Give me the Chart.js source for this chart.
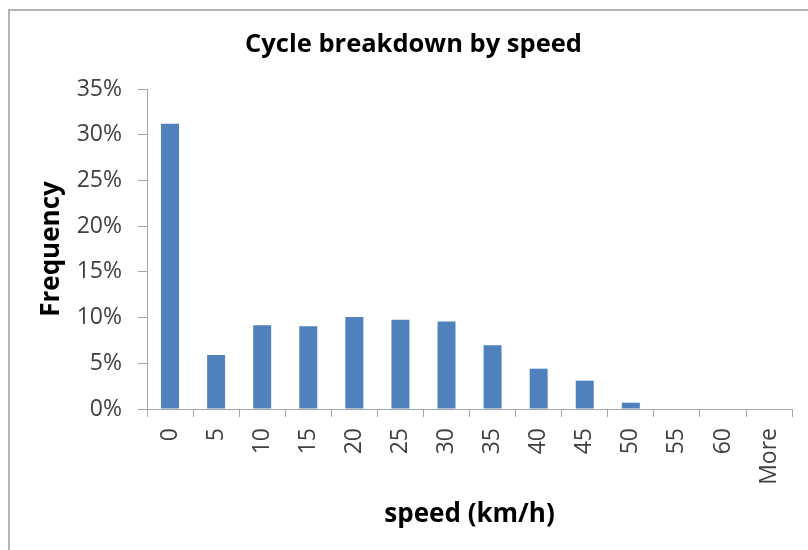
<!DOCTYPE html>
<html>
<head>
<meta charset="utf-8">
<title>Cycle breakdown by speed</title>
<script src="https://cdn.jsdelivr.net/npm/chart.js@4/dist/chart.umd.min.js"></script>
<style>
  html, body { margin: 0; padding: 0; background: #fff; overflow: hidden; }
  #wrap { position: relative; width: 808px; height: 550px; }
  #frame {
    position: absolute; left: 8px; top: 9px; width: 900px; height: 700px;
    border-left: 2px solid #b4b4b4; border-top: 2px solid #b4b4b4;
  }
  #chart { position: absolute; left: 0; top: 0; }
</style>
</head>
<body>
<div id="wrap">
  <div id="frame"></div>
  <canvas id="chart" width="808" height="550"></canvas>
</div>
<script>
  // Data
  const speedBins = ['0', '5', '10', '15', '20', '25', '30', '35', '40', '45', '50', '55', '60', 'More'];
  const frequency = [0.312, 0.059, 0.0915, 0.0905, 0.1007, 0.0977, 0.0958, 0.0696, 0.0441, 0.031, 0.0069, 0, 0, 0];
  const yTicks = [0, 0.05, 0.10, 0.15, 0.20, 0.25, 0.30, 0.35];

  const barColor  = '#4f81bd';
  const axisColor = '#a6a6a6';
  const tickColor = '#404040';
  const fontFamily = '"Open Sans", "Noto Sans", sans-serif';

  // Fixed plot box: x 147..795, y 89..409 (left pad 29 keeps the title centred like the original)
  const ctx = document.getElementById('chart').getContext('2d');
  new Chart(ctx, {
    type: 'bar',
    data: {
      labels: speedBins,
      datasets: [{
        label: 'Frequency',
        data: frequency,
        backgroundColor: barColor,
        borderWidth: 0,
        barPercentage: 0.39,
        categoryPercentage: 1
      }]
    },
    options: {
      responsive: false,
      animation: false,
      devicePixelRatio: 1,
      layout: { padding: { left: 29, right: 10, top: 0, bottom: 0 } },
      plugins: {
        legend: { display: false },
        tooltip: { enabled: false },
        title: {
          display: true,
          text: 'Cycle breakdown by speed',
          color: '#000',
          font: { family: fontFamily, size: 25.5, weight: 'bold' },
          padding: { top: 29.7, bottom: 28.7 }
        }
      },
      scales: {
        x: {
          grid: { display: true, offset: true, drawOnChartArea: false, drawTicks: true, tickLength: 8, color: axisColor },
          border: { display: true, color: axisColor, width: 1 },
          ticks: {
            color: tickColor,
            font: { family: fontFamily, size: 23 },
            minRotation: 90, maxRotation: 90,
            autoSkip: false,
            padding: 11
          },
          title: {
            display: true,
            text: 'speed (km/h)',
            color: '#000',
            font: { family: fontFamily, size: 26, weight: 'bold' },
            padding: { top: 0, bottom: 19.4 }
          },
          afterFit: (scale) => { scale.height = 141; }
        },
        y: {
          min: 0,
          max: 0.35,
          afterBuildTicks: (scale) => { scale.ticks = yTicks.map(v => ({ value: v })); },
          grid: { display: true, drawOnChartArea: false, drawTicks: true, tickLength: 9, color: axisColor },
          border: { display: true, color: axisColor, width: 1 },
          ticks: {
            color: tickColor,
            font: { family: fontFamily, size: 23 },
            padding: 16,
            callback: (v) => Math.round(v * 100) + '%'
          },
          title: {
            display: true,
            text: 'Frequency',
            color: '#000',
            font: { family: fontFamily, size: 26, weight: 'bold' },
            padding: { top: 7, bottom: 0 }
          },
          afterFit: (scale) => { scale.width = 118; }
        }
      }
    }
  });
</script>
</body>
</html>
